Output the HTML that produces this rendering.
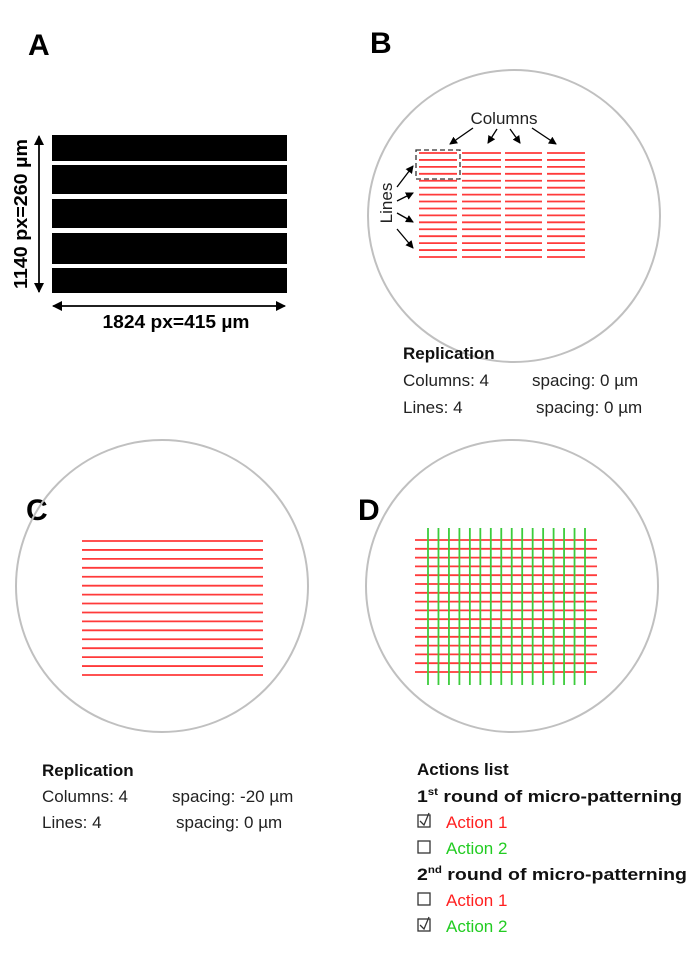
<!DOCTYPE html>
<html><head><meta charset="utf-8"><style>
html,body{margin:0;padding:0;background:#fff;}
svg{display:block;font-family:"Liberation Sans",sans-serif;}
</style></head><body>
<svg id="fig" width="700" height="955" viewBox="0 0 700 955">
<defs>
<marker id="ah" markerWidth="8" markerHeight="8" refX="7" refY="4" orient="auto" markerUnits="userSpaceOnUse"><path d="M0,0 L8,4 L0,8 z" fill="#000"/></marker>
<marker id="ahs" markerWidth="10" markerHeight="10" refX="9" refY="5" orient="auto" markerUnits="userSpaceOnUse"><path d="M0,0 L10,5 L0,10 z" fill="#000"/></marker>
</defs>
<text x="28" y="55" font-size="30" font-weight="bold">A</text>
<text x="370" y="53" font-size="30" font-weight="bold">B</text>
<text x="26" y="520" font-size="30" font-weight="bold">C</text>
<text x="358" y="520" font-size="30" font-weight="bold">D</text>

<g id="panelA"></g>
<line x1="39" y1="292" x2="39" y2="136" stroke="#000" stroke-width="1.5" marker-end="url(#ahs)"/>
<line x1="39" y1="140" x2="39" y2="292" stroke="#000" stroke-width="1.5" marker-end="url(#ahs)"/>
<line x1="56" y1="306" x2="285" y2="306" stroke="#000" stroke-width="1.5" marker-end="url(#ahs)"/>
<line x1="280" y1="306" x2="53" y2="306" stroke="#000" stroke-width="1.5" marker-end="url(#ahs)"/>
<text x="176" y="328" font-size="18" font-weight="bold" text-anchor="middle" textLength="147" lengthAdjust="spacingAndGlyphs">1824 px=415 µm</text>
<text transform="translate(27,214) rotate(-90)" font-size="18" font-weight="bold" text-anchor="middle" textLength="150" lengthAdjust="spacingAndGlyphs">1140 px=260 µm</text>

<circle cx="514" cy="216" r="146" fill="none" stroke="#c0c0c0" stroke-width="2"/>
<circle cx="162" cy="586" r="146" fill="none" stroke="#c0c0c0" stroke-width="2"/>
<circle cx="512" cy="586" r="146" fill="none" stroke="#c0c0c0" stroke-width="2"/>

<g id="panelB"></g>
<rect x="416" y="150" width="44" height="29" fill="none" stroke="#333" stroke-width="1.3" stroke-dasharray="5,3"/>
<text x="504" y="124" font-size="17" fill="#222" text-anchor="middle">Columns</text>
<g stroke="#000" stroke-width="1.3">
<line x1="473" y1="128" x2="450" y2="144" marker-end="url(#ah)"/>
<line x1="497" y1="129" x2="488" y2="143" marker-end="url(#ah)"/>
<line x1="510" y1="129" x2="520" y2="143" marker-end="url(#ah)"/>
<line x1="532" y1="128" x2="556" y2="144" marker-end="url(#ah)"/>
<line x1="397" y1="187" x2="413" y2="166" marker-end="url(#ah)"/>
<line x1="397" y1="201" x2="413" y2="193" marker-end="url(#ah)"/>
<line x1="397" y1="213" x2="413" y2="222" marker-end="url(#ah)"/>
<line x1="397" y1="229" x2="413" y2="248" marker-end="url(#ah)"/>
</g>
<text transform="translate(392,203) rotate(-90)" font-size="17" fill="#222" text-anchor="middle">Lines</text>

<g id="panelC"></g>
<g id="panelD"></g>

<g font-size="17" fill="#222">
<text x="403" y="359" font-weight="bold" fill="#111">Replication</text>
<text x="403" y="386">Columns: 4</text>
<text x="532" y="386">spacing: 0 µm</text>
<text x="403" y="413">Lines: 4</text>
<text x="536" y="413">spacing: 0 µm</text>

<text x="42" y="776" font-weight="bold" fill="#111">Replication</text>
<text x="42" y="802">Columns: 4</text>
<text x="172" y="802">spacing: -20 µm</text>
<text x="42" y="828">Lines: 4</text>
<text x="176" y="828">spacing: 0 µm</text>

<text x="417" y="775" font-weight="bold" fill="#111">Actions list</text>
<text x="417" y="802" font-weight="bold" fill="#111" textLength="265" lengthAdjust="spacingAndGlyphs">1<tspan font-size="10" dy="-7">st</tspan><tspan dy="7"> round of micro-patterning</tspan></text>
<text x="446" y="828" fill="#ff2020">Action 1</text>
<text x="446" y="854" fill="#22cc22">Action 2</text>
<text x="417" y="880" font-weight="bold" fill="#111" textLength="270" lengthAdjust="spacingAndGlyphs">2<tspan font-size="10" dy="-7">nd</tspan><tspan dy="7"> round of micro-patterning</tspan></text>
<text x="446" y="906" fill="#ff2020">Action 1</text>
<text x="446" y="932" fill="#22cc22">Action 2</text>
</g>
<g fill="none" stroke="#333" stroke-width="1.3">
<rect x="418" y="815" width="12" height="12"/>
<path d="M420,821 L424,825 L429,813"/>
<rect x="418" y="841" width="12" height="12"/>
<rect x="418" y="893" width="12" height="12"/>
<rect x="418" y="919" width="12" height="12"/>
<path d="M420,925 L424,929 L429,917"/>
</g>
</svg>
<script>
const barTops=[135,165,199,233,268];
const barBottoms=[161,194,228,264,293];
const colStartsB=[419,462,505,547];
const colEndsB=[457,501,542,585];
const lineCount=16;
const NS="http://www.w3.org/2000/svg";
function mk(tag,attrs,parent){const e=document.createElementNS(NS,tag);for(const k in attrs)e.setAttribute(k,attrs[k]);parent.appendChild(e);return e;}
const gA=document.getElementById('panelA');
barTops.forEach((t,i)=>{const r=mk('rect',{x:52,y:t,width:235,height:barBottoms[i]-t,fill:'#000'},gA);

});
const gB=document.getElementById('panelB');
function ys(y0,y1){const a=[];for(let i=0;i<lineCount;i++)a.push(y0+(y1-y0)*i/(lineCount-1));return a;}
colStartsB.forEach((x0,c)=>{ys(153,257).forEach(y=>{const l=mk('line',{x1:x0,x2:colEndsB[c],y1:y,y2:y,stroke:'#ff3a3a','stroke-width':1.8},gB);

});});
const gC=document.getElementById('panelC');
ys(541,675).forEach(y=>{const l=mk('line',{x1:82,x2:263,y1:y,y2:y,stroke:'#ff3a3a','stroke-width':1.8},gC);

});
const gD=document.getElementById('panelD');
ys(540,672).forEach(y=>{const l=mk('line',{x1:415,x2:597,y1:y,y2:y,stroke:'#ff3a3a','stroke-width':1.8},gD);

});
ys(428,585).forEach(x=>{const l=mk('line',{x1:x,x2:x,y1:528,y2:685,stroke:'#3ccc3c','stroke-width':1.8},gD);

});
</script>
</body></html>
